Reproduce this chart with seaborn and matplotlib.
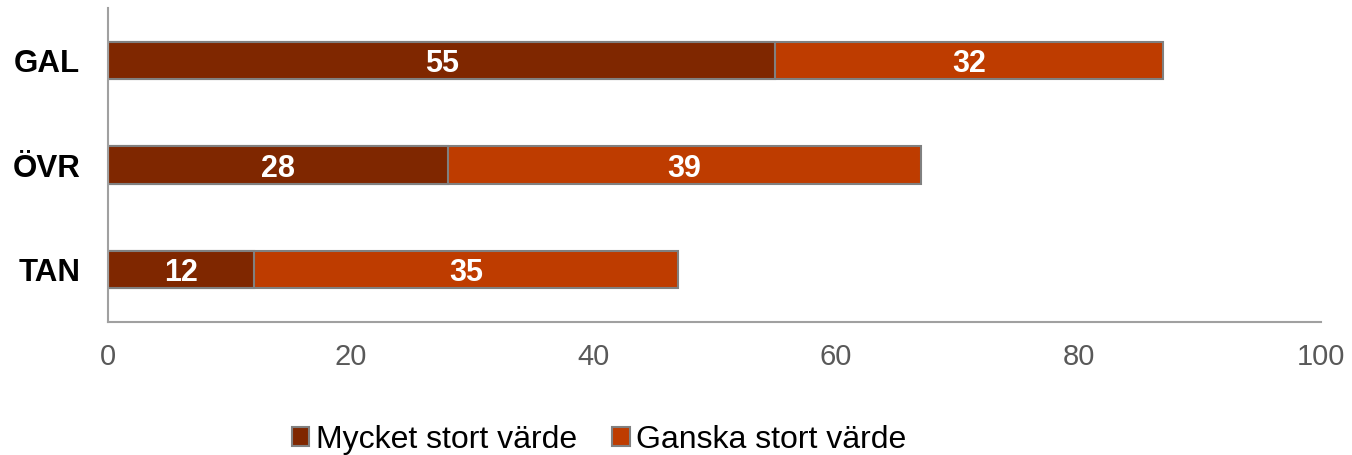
import matplotlib
matplotlib.use("Agg")
import matplotlib.pyplot as plt
from matplotlib.patches import Patch
import seaborn as sns
import pandas as pd

categories = ["GAL", "ÖVR", "TAN"]
mycket = [55, 28, 12]
ganska = [32, 39, 35]
series_names = ["Mycket stort värde", "Ganska stort värde"]
x_ticks = [0, 20, 40, 60, 80, 100]

dark = "#7F2700"
orange = "#BE3C00"
edge = "#808080"

sns.set_theme(style="white")
plt.rcParams["font.family"] = ["Liberation Sans", "DejaVu Sans"]

df = pd.DataFrame({"cat": categories, "mycket": mycket, "ganska": ganska})
df["total"] = df["mycket"] + df["ganska"]

fig = plt.figure(figsize=(13.52, 4.55), dpi=100)
ax = fig.add_axes([0.0799, 0.2923, 0.8973, 0.6901])

# full bar (orange) first, dark segment drawn on top from zero
sns.barplot(data=df, x="total", y="cat", color=orange, saturation=1,
            width=0.354, edgecolor=edge, linewidth=1.5, ax=ax)
sns.barplot(data=df, x="mycket", y="cat", color=dark, saturation=1,
            width=0.354, edgecolor=edge, linewidth=1.5, ax=ax)

# value labels, nudged slightly down so the digits sit centred in the bar
dy = 0.035
for i, (m, g) in enumerate(zip(mycket, ganska)):
    ax.text(m / 2, i + dy, str(m), ha="center", va="center", color="white",
            fontsize=22, fontweight="bold")
    ax.text(m + g / 2, i + dy, str(g), ha="center", va="center", color="white",
            fontsize=22, fontweight="bold")

ax.set_xlim(0, 100)
ax.set_ylim(2.5, -0.5)
ax.set_xticks(x_ticks)
ax.set_xticklabels([str(t) for t in x_ticks], fontsize=21, color="#595959")
ax.set_yticklabels(categories, fontsize=22.5, fontweight="bold", color="black")
ax.tick_params(axis="both", length=0)
ax.tick_params(axis="x", pad=15)
ax.tick_params(axis="y", pad=20)
ax.set_xlabel("")
ax.set_ylabel("")
for s in ["top", "right"]:
    ax.spines[s].set_visible(False)
for s in ["left", "bottom"]:
    ax.spines[s].set_color("#A0A0A0")
    ax.spines[s].set_linewidth(1.5)

handles = [Patch(facecolor=dark, edgecolor=edge, linewidth=1.5),
           Patch(facecolor=orange, edgecolor=edge, linewidth=1.5)]
fig.legend(handles, series_names, loc="center", ncol=2, frameon=False,
           bbox_to_anchor=(0.443, 0.033), fontsize=23, handlelength=0.55,
           handleheight=0.55, handletextpad=0.2, columnspacing=1.1,
           labelcolor="black", borderaxespad=0, borderpad=0)

fig.savefig("out.png", dpi=100)
